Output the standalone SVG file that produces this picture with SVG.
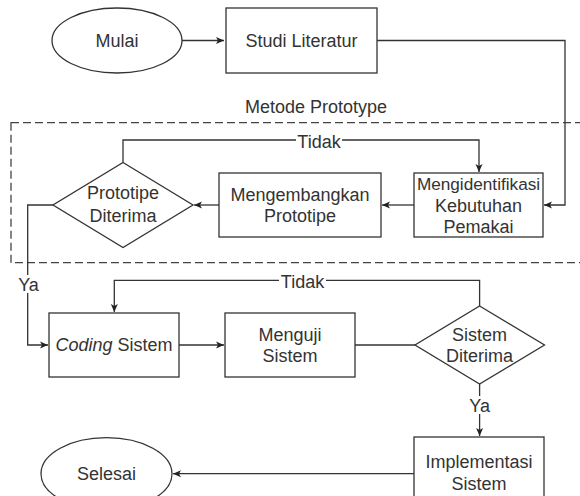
<svg xmlns="http://www.w3.org/2000/svg" width="580" height="496" viewBox="0 0 580 496">
  <style>
    .shape { fill: #ffffff; stroke: #333333; stroke-width: 1.3; }
    .edge { fill: none; stroke: #333333; stroke-width: 1.3; }
    .lbl { font-family: "Liberation Sans", Arial, sans-serif; font-size: 18px; fill: #333333; text-anchor: middle; }
    .narrow { font-size: 17.2px; }
    .frame { fill: none; stroke: #444444; stroke-width: 1.3; stroke-dasharray: 8 4; }
    .bg { fill: #ffffff; }
  </style>
  <defs>
    <marker id="arrow" markerWidth="10" markerHeight="8" refX="8" refY="4" orient="auto" markerUnits="userSpaceOnUse">
      <path d="M0,0.5 L8,4 L0,7.5 L2,4 Z" fill="#222222"/>
    </marker>
  </defs>

  <rect width="580" height="496" fill="#ffffff"/>

  <!-- prototype method frame -->
  <g id="prototype-frame">
    <rect class="frame" x="11" y="122.7" width="590" height="140"/>
    <text class="lbl" x="316" y="113">Metode Prototype</text>
  </g>

  <!-- connectors -->
  <g id="connectors">
    <path class="edge" d="M182,40.5 H224" marker-end="url(#arrow)"/>
    <path class="edge" d="M377,40.5 H565 V205 H544" marker-end="url(#arrow)"/>
    <path class="edge" d="M414,205 H382" marker-end="url(#arrow)"/>
    <path class="edge" d="M219,205 H194" marker-end="url(#arrow)"/>
    <path class="edge" d="M123,162.5 V140 H479 V172" marker-end="url(#arrow)"/>
    <path class="edge" d="M53,205 H27.7 V345 H48" marker-end="url(#arrow)"/>
    <path class="edge" d="M179,345 H224" marker-end="url(#arrow)"/>
    <path class="edge" d="M355,345 H415"/>
    <path class="edge" d="M479.6,306 V280.3 H114.3 V312" marker-end="url(#arrow)"/>
    <path class="edge" d="M479.6,384 V436" marker-end="url(#arrow)"/>
    <path class="edge" d="M414,473.7 H173" marker-end="url(#arrow)"/>
    <!-- edge labels -->
    <rect class="bg" x="296" y="132" width="46" height="18"/>
    <text class="lbl" x="319" y="148">Tidak</text>
    <rect class="bg" x="279" y="272" width="47" height="18"/>
    <text class="lbl" x="302.5" y="288">Tidak</text>
    <rect class="bg" x="17" y="275" width="23" height="18"/>
    <text class="lbl" x="28.5" y="290.7">Ya</text>
    <rect class="bg" x="468" y="396" width="23" height="18"/>
    <text class="lbl" x="479.6" y="411.5">Ya</text>
  </g>

  <g id="mulai">
    <ellipse class="shape" cx="117" cy="40.5" rx="65" ry="32.5"/>
    <text class="lbl" x="117" y="46.8">Mulai</text>
  </g>

  <g id="studi-literatur">
    <rect class="shape" x="226" y="8" width="151" height="65"/>
    <text class="lbl" x="301.5" y="46.8">Studi Literatur</text>
  </g>

  <g id="mengidentifikasi">
    <rect class="shape" x="414" y="173" width="129" height="64"/>
    <text class="lbl narrow" x="478.5" y="190">Mengidentifikasi</text>
    <text class="lbl" x="478.5" y="211.5">Kebutuhan</text>
    <text class="lbl" x="478.5" y="233">Pemakai</text>
  </g>

  <g id="mengembangkan">
    <rect class="shape" x="219" y="173" width="162" height="64"/>
    <text class="lbl" x="300" y="200.5">Mengembangkan</text>
    <text class="lbl" x="300" y="222">Prototipe</text>
  </g>

  <g id="prototipe-diterima">
    <polygon class="shape" points="123,162.5 193,205 123,247.5 53,205"/>
    <text class="lbl" x="123" y="199">Prototipe</text>
    <text class="lbl" x="123" y="221.5">Diterima</text>
  </g>

  <g id="coding-sistem">
    <rect class="shape" x="49" y="313" width="130" height="64"/>
    <text class="lbl" x="114" y="351.3"><tspan font-style="italic">Coding</tspan> Sistem</text>
  </g>

  <g id="menguji-sistem">
    <rect class="shape" x="225" y="313" width="130" height="64"/>
    <text class="lbl" x="290" y="340.5">Menguji</text>
    <text class="lbl" x="290" y="362">Sistem</text>
  </g>

  <g id="sistem-diterima">
    <polygon class="shape" points="479.6,306 544.5,345 479.6,384 415,345"/>
    <text class="lbl" x="479.6" y="340.5">Sistem</text>
    <text class="lbl" x="479.6" y="362">Diterima</text>
  </g>

  <g id="implementasi-sistem">
    <rect class="shape" x="414" y="437" width="130" height="74"/>
    <text class="lbl" x="479" y="467.5">Implementasi</text>
    <text class="lbl" x="479" y="490">Sistem</text>
  </g>

  <g id="selesai">
    <ellipse class="shape" cx="106.5" cy="473.7" rx="65.5" ry="36"/>
    <text class="lbl" x="106.5" y="480">Selesai</text>
  </g>
</svg>
